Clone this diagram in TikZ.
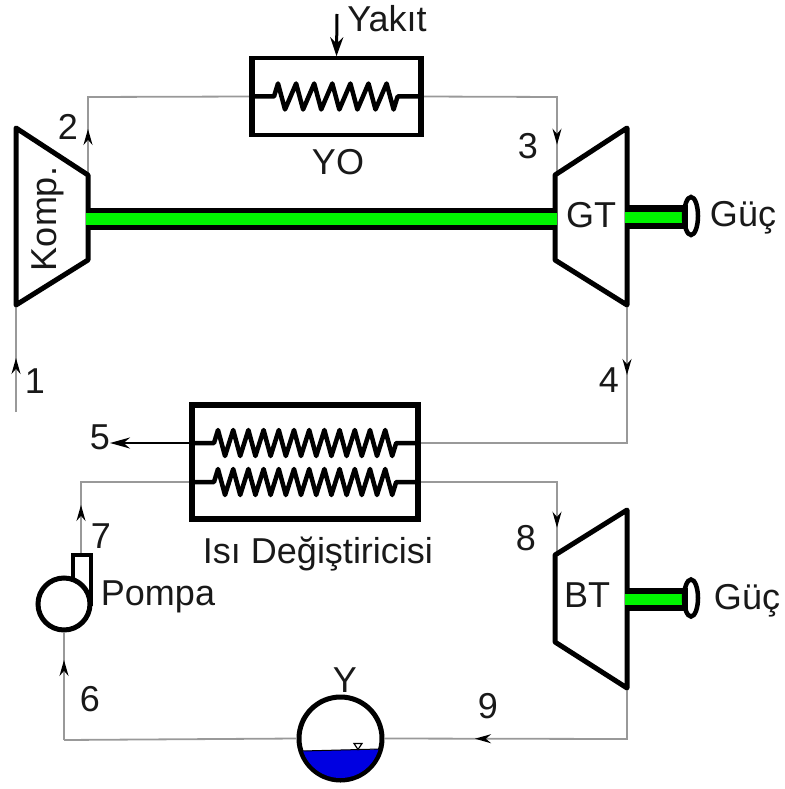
\documentclass[tikz,border=0pt]{standalone}
\usepackage{fontspec}
\setmainfont{Liberation Sans}
\usetikzlibrary{arrows.meta,decorations.markings,calc}
\definecolor{pipegray}{gray}{0.6}
\definecolor{shaftgreen}{RGB}{0,245,0}
\definecolor{waterblue}{RGB}{0,0,225}
\tikzset{
  x=1pt,y=-1pt,
  lbl/.style={inner sep=0pt,font=\fontsize{36}{36}\selectfont,text=black!90},
  pipe/.style={draw=pipegray,line width=1.8pt},
  flowmark/.style={postaction={decorate,decoration={markings,mark=at position #1 with {\arrow[black]{Stealth[length=16pt,width=9pt]}}}}},
  machine/.style={draw=black,line width=5pt,fill=white,line join=round},
  coil/.style={draw=black,line width=4.5pt,line join=round},
  boxthin/.style={draw=black,line width=3.4pt,inner sep=0pt},
  boxthick/.style={draw=black,line width=5.5pt,inner sep=0pt},
  shaftblack/.style={fill=black,draw=none},
  shaftcore/.style={fill=shaftgreen,draw=none},
  feed/.style={draw=black,line width=3pt,-{Stealth[length=19pt,width=13pt]}},
}
\newcommand{\coilrow}[6]{% x0 first top, spacing, n-1, ymid, xstart, xend
  \draw[coil] (#5,#4) -- (#1-4,#4)
    \foreach \i in {0,...,#3} { -- ({#1+#2*\i},#4-13) -- ({#1+7+#2*\i},#4+13) }
    -- ({#1+#2*#3+11},#4) -- (#6,#4);
}
\begin{document}
\begin{tikzpicture}
\useasboundingbox (0,0) rectangle (784,789);
% ports
\coordinate (in1) at (16,412);
\coordinate (kin) at (16,305);
\coordinate (kout) at (88,175);
\coordinate (gin) at (557,175);
\coordinate (gout) at (627,305);
\coordinate (bin) at (557,555);
\coordinate (bout) at (627,688);
\coordinate (fuel) at (337,14);
\coordinate (c2) at (88,97);
\coordinate (c3) at (557,97);
\coordinate (c4) at (627,443);
\coordinate (c7) at (81,482);
\coordinate (c8) at (557,482);
\coordinate (c6) at (64,740);
\coordinate (c9) at (627,739);
\coordinate (end5) at (110,443);
% components
\node[boxthin,minimum width=167pt,minimum height=77pt] (yo) at (336.5,96.5) {};
\node[boxthick,minimum width=226pt,minimum height=114pt] (hx) at (305,462) {};
\node[draw=black,line width=5pt,circle,minimum size=52pt,inner sep=0pt] (pump) at (64,604) {};
\node[draw=black,line width=5pt,circle,minimum size=83pt,inner sep=0pt] (tank) at (340.5,738.5) {};
\coordinate (pumpout) at (81,555);
\coordinate (hxb) at (hx.east |- c4);
\coordinate (hxc) at (hx.west |- c7);
\coordinate (hxd) at (hx.east |- c7);
\coordinate (ps) at (c6 |- pump.south);
% pipes
\draw[pipe,flowmark=54pt] (in1) -- (kin);
\draw[pipe,flowmark=46pt] (kout) -- (c2) -- (yo.west);
\draw[pipe,flowmark=183pt] (yo.east) -- (c3) -- (gin);
\draw[pipe,flowmark=70pt] (gout) -- (c4) -- (hxb);
\draw[pipe,flowmark=50pt] (pumpout) -- (c7) -- (hxc);
\draw[pipe,flowmark=182pt] (hxd) -- (c8) -- (bin);
\draw[pipe] (tank.west) -- (c6);
\draw[pipe,flowmark=80pt] (c6) -- (ps);
\draw[pipe,flowmark=203pt] (bout) -- (c9) -- (tank.east);
% outlet 5 and fuel
\draw[draw=black,line width=2.4pt,-{Stealth[length=20pt,width=11pt]}] (hx.west |- end5) -- (end5);
\draw[feed] (fuel) -- (yo.north);
% box side reinforcement
\draw[black,line width=5.5pt] (yo.north west) -- (yo.south west) (yo.north east) -- (yo.south east);
% coils
\coilrow{278}{18.1}{6}{96.5}{253}{420}
\coilrow{218}{15.2}{11}{443}{192}{418}
\coilrow{218}{15.2}{11}{482}{192}{418}
% machines
\draw[machine] (16,128) -- (88,175) -- (88,260) -- (16,305) -- cycle;
\draw[machine] (555,175) -- (627,128) -- (627,305) -- (555,260) -- cycle;
\draw[machine] (555,555) -- (627,510) -- (627,688) -- (555,642) -- cycle;
% shafts
\fill[shaftblack] (86,208) rectangle (557,230);
\fill[shaftcore] (86,213) rectangle (557,225);
\fill[shaftblack] (627,205) rectangle (688,229);
\fill[shaftcore] (625,212) rectangle (686,223);
\fill[shaftblack] (627,588) rectangle (688,611);
\fill[shaftcore] (625,594) rectangle (686,605);
\draw[black,line width=4.5pt] (691,216) ellipse [x radius=7pt,y radius=19pt];
\draw[black,line width=4.5pt] (691,598) ellipse [x radius=7pt,y radius=18.5pt];
% pump outlet
\draw[black,line width=4.5pt,line join=miter] (73,579) -- (73,555) -- (91,555) -- (91,606);
% tank water
\begin{scope}
  \clip (tank.center) circle[radius=39.5pt];
  \fill[waterblue] (295,751) -- (385,749) -- (385,785) -- (295,785) -- cycle;
\end{scope}
\draw[black,line width=1pt] (302,751) -- (379,749);
\draw[black,line width=1.2pt,fill=white] (354,743.5) -- (362,743.5) -- (358,749.5) -- cycle;
% labels
\node[lbl] (lyakit) at (387,19) {Yakıt};
\node[lbl] (lyo) at (338,162) {YO};
\node[lbl] (l2) at (68,127) {2};
\node[lbl] (l3) at (528,146) {3};
\node[lbl] (l1) at (35,381) {1};
\node[lbl] (l4) at (609,380) {4};
\node[lbl] (l5) at (100,437) {5};
\node[lbl] (l7) at (101,536) {7};
\node[lbl] (l8) at (526,538) {8};
\node[lbl] (l6) at (90,699) {6};
\node[lbl] (l9) at (488,706) {9};
\node[lbl] (ly) at (345,680) {Y};
\node[lbl] (lkomp) at (48,219) [rotate=90] {Komp.};
\node[lbl] (lgt) at (591,215) {GT};
\node[lbl] (lbt) at (587,595) {BT};
\node[lbl] (lguc1) at (743,218) {Güç};
\node[lbl] (lguc2) at (747,601) {Güç};
\node[lbl] (lpompa) at (158,597) {Pompa};
\node[lbl] (lisi) at (318,554) {Isı Değiştiricisi};
\end{tikzpicture}
\end{document}
